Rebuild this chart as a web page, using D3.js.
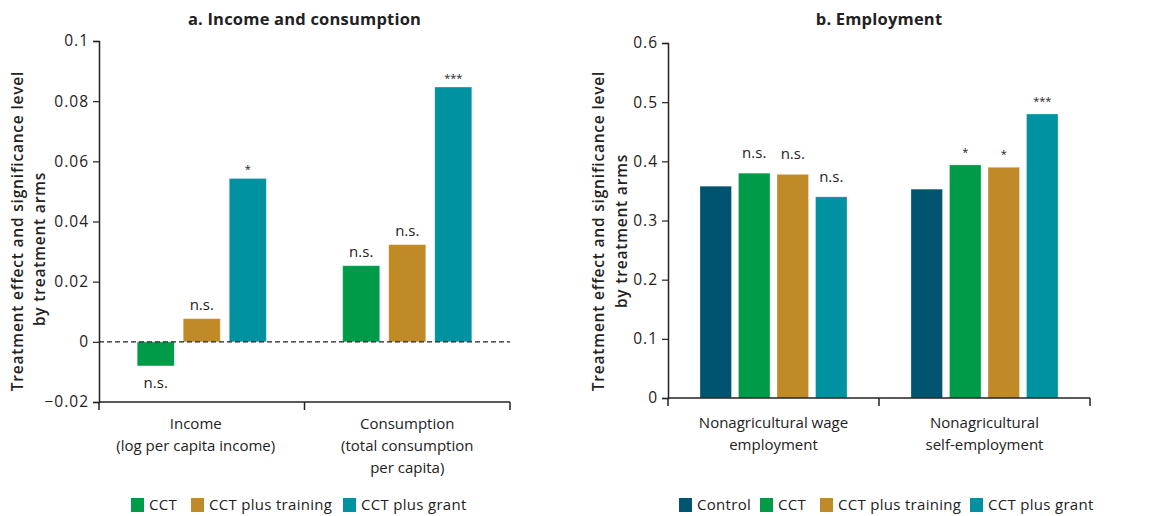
<!DOCTYPE html>
<html>
<head>
<meta charset="utf-8">
<script src="https://cdnjs.cloudflare.com/ajax/libs/d3/7.8.5/d3.min.js"></script>
<style>
  html, body { margin: 0; padding: 0; background: #fff; }
  svg { display: block; font-family: "Open Sans", "Noto Sans", sans-serif; }
</style>
</head>
<body>
<svg id="chart" width="1165" height="516"></svg>
<script>
// Panel a: income and consumption
const aCategories = [["Income", "(log per capita income)"], ["Consumption", "(total consumption", "per capita)"]];
const aSeries = ["CCT", "CCT plus training", "CCT plus grant"];
const aValues = [
  [-0.008, 0.0077, 0.0543],   // Income
  [0.0253, 0.0323, 0.0847]    // Consumption
];
const aSignif = [
  ["n.s.", "n.s.", "*"],
  ["n.s.", "n.s.", "***"]
];
const aTicks = [-0.02, 0, 0.02, 0.04, 0.06, 0.08, 0.1];
const aTickLabels = ["\u22120.02", "0", "0.02", "0.04", "0.06", "0.08", "0.1"];

// Panel b: employment
const bCategories = [["Nonagricultural wage", "employment"], ["Nonagricultural", "self-employment"]];
const bSeries = ["Control", "CCT", "CCT plus training", "CCT plus grant"];
const bValues = [
  [0.358, 0.380, 0.378, 0.340],
  [0.353, 0.394, 0.390, 0.480]
];
const bSignif = [
  ["", "n.s.", "n.s.", "n.s."],
  ["", "*", "*", "***"]
];
const bTicks = [0, 0.1, 0.2, 0.3, 0.4, 0.5, 0.6];
const bTickLabels = ["0", "0.1", "0.2", "0.3", "0.4", "0.5", "0.6"];

const colors = {
  "Control": "#00546F",
  "CCT": "#009B48",
  "CCT plus training": "#C08A26",
  "CCT plus grant": "#0092A1"
};

const yLabel = ["Treatment effect and significance level", "by treatment arms"];
const textColor = "#222";

const svg = d3.select("#chart");

function drawPanel(opt) {
  const g = svg.append("g");
  const y = d3.scaleLinear().domain(opt.domain).range([opt.bottom, opt.top]);
  const x0 = d3.scaleBand().domain(d3.range(opt.categories.length))
    .range([opt.left, opt.right]).paddingInner(0).paddingOuter(0);
  const x1 = d3.scaleBand().domain(opt.series)
    .range([0, x0.bandwidth()]).paddingInner(opt.innerPad).paddingOuter(opt.outerPad);

  // title
  g.append("text")
    .attr("x", (opt.left + opt.right) / 2).attr("y", 25)
    .attr("text-anchor", "middle")
    .attr("font-size", 16.5).attr("font-weight", 700).attr("letter-spacing", 0.2)
    .attr("fill", textColor)
    .text(opt.title);

  // y axis
  const yAxis = d3.axisLeft(y).tickValues(opt.ticks)
    .tickFormat((d, i) => opt.tickLabels[i]).tickSize(6).tickPadding(4);
  const ya = g.append("g").attr("transform", `translate(${opt.left},0)`).call(yAxis);
  ya.select(".domain").attr("stroke", "#222").attr("stroke-width", 1.5);
  ya.selectAll(".tick line").attr("stroke", "#222").attr("stroke-width", 1.2);
  ya.selectAll(".tick text").attr("font-size", 15.5).attr("letter-spacing", 1)
    .attr("fill", textColor)
    .attr("font-family", "\"Open Sans\", sans-serif");

  // y label, two rotated lines
  opt.labelPos.forEach((p, i) => {
    g.append("text")
      .attr("transform", `translate(${p[0]},${p[1]}) rotate(-90)`)
      .attr("text-anchor", "middle")
      .attr("font-size", 15.5).attr("font-weight", 600).attr("letter-spacing", 0.8)
      .attr("fill", textColor)
      .text(yLabel[i]);
  });

  // bars
  opt.categories.forEach((cat, ci) => {
    const gx = x0(ci);
    opt.series.forEach((s, si) => {
      const v = opt.values[ci][si];
      const bx = gx + x1(s);
      g.append("rect")
        .attr("x", bx).attr("width", x1.bandwidth())
        .attr("y", y(Math.max(0, v)))
        .attr("height", Math.abs(y(v) - y(0)))
        .attr("fill", colors[s])
        .attr("stroke", "#fff").attr("stroke-opacity", 0.35).attr("stroke-width", 0.8);
      const sig = opt.signif[ci][si];
      if (sig) {
        const isStar = sig.indexOf("*") >= 0;
        const ty = v >= 0 ? y(v) - (isStar ? opt.starGap : opt.nsGap) : y(v) + 22;
        g.append("text")
          .attr("x", bx + x1.bandwidth() / 2).attr("y", ty)
          .attr("text-anchor", "middle")
          .attr("font-size", isStar ? 11 : 15).attr("fill", textColor)
          .text(sig);
      }
    });
  });

  // zero reference line
  if (opt.domain[0] < 0) {
    g.append("line")
      .attr("x1", opt.left).attr("x2", opt.right)
      .attr("y1", y(0)).attr("y2", y(0))
      .attr("stroke", "#222").attr("stroke-width", 1.3)
      .attr("stroke-dasharray", "5,3");
  }

  // x axis baseline with category separators
  g.append("line")
    .attr("x1", opt.left).attr("x2", opt.right)
    .attr("y1", opt.bottom).attr("y2", opt.bottom)
    .attr("stroke", "#222").attr("stroke-width", 1.5);
  const sepTicks = [opt.left, ...opt.categories.map((c, i) => x0(i) + x0.bandwidth())];
  sepTicks.forEach(t => {
    g.append("line").attr("x1", t).attr("x2", t)
      .attr("y1", opt.bottom).attr("y2", opt.bottom + 8)
      .attr("stroke", "#222").attr("stroke-width", 1.5);
  });

  // category labels
  opt.categories.forEach((lines, ci) => {
    const cx = x0(ci) + x0.bandwidth() / 2 + (opt.catShift[ci] || 0);
    const t = g.append("text").attr("text-anchor", "middle")
      .attr("font-size", 15).attr("fill", textColor);
    lines.forEach((ln, li) => {
      t.append("tspan").attr("x", cx).attr("y", opt.bottom + opt.catOffset + li * 22).text(ln);
    });
  });

  // legend
  opt.series.forEach((s, si) => {
    const lx = opt.legendX[si];
    g.append("rect").attr("x", lx).attr("y", 498).attr("width", 13).attr("height", 14)
      .attr("fill", colors[s]);
    g.append("text").attr("x", lx + 18).attr("y", 510)
      .attr("font-size", 15).attr("letter-spacing", 0.3)
      .attr("fill", textColor).text(s);
  });
}

drawPanel({
  title: "a. Income and consumption",
  categories: aCategories, series: aSeries, values: aValues, signif: aSignif,
  ticks: aTicks, tickLabels: aTickLabels, domain: [-0.02, 0.1],
  left: 99, right: 510, top: 41, bottom: 402,
  innerPad: 0.196, outerPad: 0.83,
  labelPos: [[23, 231], [45, 249]],
  nsGap: 9, starGap: 5,
  catShift: [-6, 0], catOffset: 27,
  legendX: [131, 191, 343]
});

drawPanel({
  title: "b. Employment",
  categories: bCategories, series: bSeries, values: bValues, signif: bSignif,
  ticks: bTicks, tickLabels: bTickLabels, domain: [0, 0.6],
  left: 668, right: 1090, top: 43, bottom: 398,
  innerPad: 0.182, outerPad: 0.83,
  labelPos: [[604, 231], [627, 231]],
  nsGap: 15, starGap: 9,
  catShift: [0, 0], catOffset: 30,
  legendX: [679, 760, 820, 970]
});
</script>
</body>
</html>
